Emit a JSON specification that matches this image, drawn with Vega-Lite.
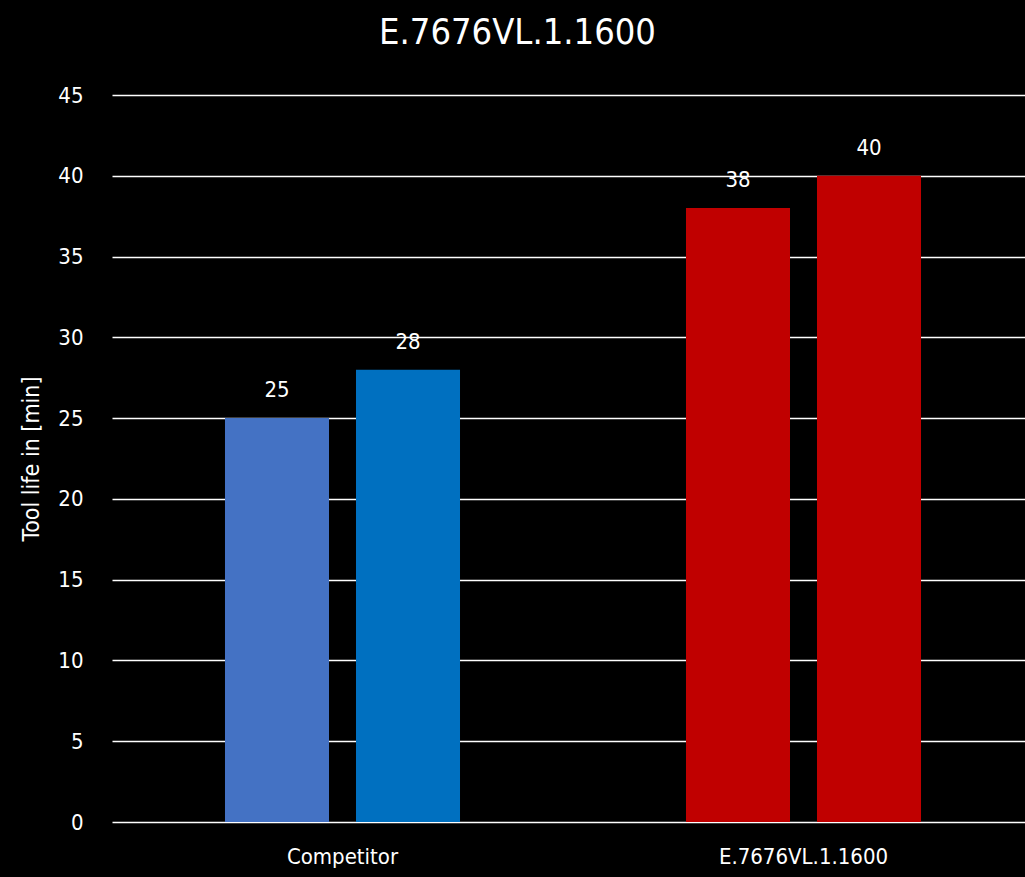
{
  "$schema": "https://vega.github.io/schema/vega-lite/v6.json",
  "width": 913,
  "height": 727,
  "autosize": "none",
  "padding": {"left": 112, "top": 95, "right": 0, "bottom": 55},
  "background": "black",
  "title": {
    "text": "E.7676VL.1.1600",
    "color": "white",
    "font": "DejaVu Sans Condensed, Roboto Condensed, Roboto",
    "fontSize": 36,
    "fontWeight": "normal",
    "anchor": "middle",
    "frame": "group",
    "dx": -51,
    "offset": 32
  },
  "data": {
    "values": [
      {"product": "Competitor", "test": 1, "bar": "Competitor 1", "life": 25},
      {"product": "Competitor", "test": 2, "bar": "Competitor 2", "life": 28},
      {"product": "E.7676VL.1.1600", "test": 1, "bar": "E.7676VL.1.1600 1", "life": 38},
      {"product": "E.7676VL.1.1600", "test": 2, "bar": "E.7676VL.1.1600 2", "life": 40}
    ]
  },
  "encoding": {
    "x": {
      "field": "product",
      "type": "nominal",
      "sort": null,
      "scale": {"range": [0, 922], "paddingInner": 0.4902, "paddingOuter": 0.2451},
      "axis": {
        "title": null,
        "labelAngle": 0,
        "labelColor": "white",
        "labelFont": "DejaVu Sans Condensed, Roboto Condensed, Roboto",
        "labelFontSize": 22,
        "labelPadding": 24,
        "ticks": false,
        "domain": false
      }
    },
    "xOffset": {
      "field": "test",
      "type": "ordinal",
      "scale": {"paddingInner": 0.206, "paddingOuter": 0}
    },
    "y": {
      "field": "life",
      "type": "quantitative",
      "scale": {"domain": [0, 45]},
      "axis": {
        "title": "Tool life in [min]",
        "titleColor": "white",
        "titleFont": "DejaVu Sans Condensed, Roboto Condensed, Roboto",
        "titleFontSize": 23,
        "titleFontWeight": "normal",
        "titlePadding": 14,
        "values": [0, 5, 10, 15, 20, 25, 30, 35, 40, 45],
        "labelColor": "white",
        "labelFont": "DejaVu Sans Condensed, Roboto Condensed, Roboto",
        "labelFontSize": 22,
        "labelPadding": 29,
        "ticks": false,
        "domain": false,
        "gridColor": "white",
        "gridWidth": 1.5,
        "gridOpacity": 1
      }
    }
  },
  "layer": [
    {
      "mark": {"type": "bar"},
      "encoding": {
        "color": {
          "field": "bar",
          "type": "nominal",
          "scale": {
            "domain": ["Competitor 1", "Competitor 2", "E.7676VL.1.1600 1", "E.7676VL.1.1600 2"],
            "range": ["#4472C4", "#0070C0", "#C00000", "#C00000"]
          },
          "legend": null
        }
      }
    },
    {
      "mark": {
        "type": "text",
        "baseline": "bottom",
        "dy": -16,
        "color": "white",
        "font": "DejaVu Sans Condensed, Roboto Condensed, Roboto",
        "fontSize": 22
      },
      "encoding": {
        "text": {"field": "life", "type": "quantitative"}
      }
    }
  ],
  "config": {
    "view": {"stroke": null}
  }
}
